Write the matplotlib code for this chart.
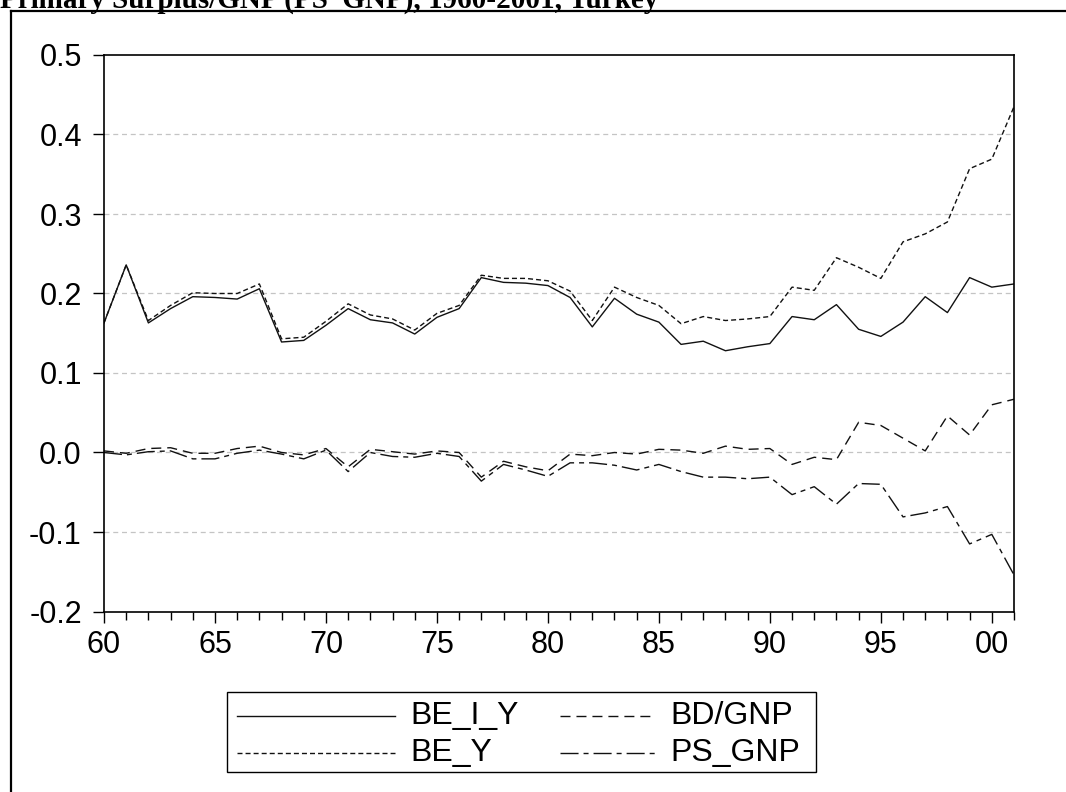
import matplotlib
matplotlib.use("Agg")
import matplotlib.pyplot as plt
from matplotlib.lines import Line2D
from matplotlib.patches import Rectangle
from matplotlib.ticker import MultipleLocator, FixedLocator

years = list(range(1960, 2002))

be_i_y = [0.163, 0.236, 0.163, 0.181, 0.196, 0.195, 0.193, 0.206, 0.139, 0.141,
          0.160, 0.181, 0.167, 0.163, 0.149, 0.170, 0.181, 0.220, 0.214, 0.213,
          0.210, 0.195, 0.158, 0.194, 0.174, 0.164, 0.136, 0.140, 0.128, 0.133,
          0.137, 0.171, 0.167, 0.186, 0.155, 0.146, 0.164, 0.196, 0.176, 0.220,
          0.208, 0.212]

be_y = [0.163, 0.236, 0.166, 0.185, 0.201, 0.200, 0.200, 0.212, 0.143, 0.145,
        0.165, 0.187, 0.173, 0.168, 0.154, 0.175, 0.185, 0.223, 0.219, 0.219,
        0.216, 0.203, 0.166, 0.208, 0.195, 0.185, 0.162, 0.171, 0.166, 0.168,
        0.171, 0.208, 0.204, 0.245, 0.233, 0.219, 0.265, 0.275, 0.290, 0.357,
        0.369, 0.435]

bd_gnp = [0.002, -0.001, 0.005, 0.006, -0.001, -0.001, 0.005, 0.008, 0.000, -0.003,
          0.005, -0.018, 0.004, 0.001, -0.002, 0.002, 0.000, -0.031, -0.011, -0.018,
          -0.023, -0.002, -0.004, 0.000, -0.002, 0.004, 0.003, -0.001, 0.008, 0.004,
          0.005, -0.015, -0.006, -0.009, 0.038, 0.034, 0.018, 0.002, 0.046, 0.022,
          0.060, 0.067]

ps_gnp = [0.000, -0.003, 0.001, 0.002, -0.008, -0.008, -0.001, 0.003, -0.002, -0.008,
          0.003, -0.024, 0.000, -0.005, -0.006, -0.001, -0.005, -0.036, -0.015, -0.022,
          -0.030, -0.013, -0.013, -0.016, -0.022, -0.015, -0.024, -0.031, -0.031, -0.033,
          -0.031, -0.053, -0.043, -0.065, -0.039, -0.040, -0.081, -0.076, -0.068, -0.115,
          -0.103, -0.154]

y_ticks = [-0.2, -0.1, 0.0, 0.1, 0.2, 0.3, 0.4, 0.5]
x_major = [1960, 1965, 1970, 1975, 1980, 1985, 1990, 1995, 2000]
x_labels = ["60", "65", "70", "75", "80", "85", "90", "95", "00"]
title_text = "Primary Surplus/GNP (PS_GNP), 1960-2001, Turkey"

W, H = 1066, 792
fig = plt.figure(figsize=(W / 100, H / 100), dpi=100)
fig.patch.set_facecolor("white")

def fx(x):
    return x / W

def fy(y):
    return 1 - y / H

L, R, T, B = 104, 1014, 55, 611.5
ax = fig.add_axes([fx(L), fy(B), fx(R) - fx(L), fy(T) - fy(B)])

styles = {
    "BE_I_Y": dict(ls="-"),
    "BE_Y": dict(ls=(0, (3.6, 2.2))),
    "BD/GNP": dict(ls=(0, (7.2, 4.3))),
    "PS_GNP": dict(ls=(0, (13, 3.6, 3.6, 3.6))),
}
series = [("BE_I_Y", be_i_y), ("BE_Y", be_y), ("BD/GNP", bd_gnp), ("PS_GNP", ps_gnp)]
for name, vals in series:
    ax.plot(years, vals, color="#111111", lw=1.0, **styles[name])

ax.set_xlim(1960, 2001)
ax.set_ylim(-0.2, 0.5)

for g in [-0.1, 0.0, 0.1, 0.2, 0.3, 0.4]:
    ax.axhline(g, color="#c4c4c4", lw=0.9, ls=(0, (4, 3)), zorder=0)

font = "Liberation Sans"
ax.set_yticks(y_ticks)
ax.set_yticklabels([f"{v:.1f}" for v in y_ticks], fontsize=22, family=font)
ax.xaxis.set_major_locator(FixedLocator(x_major))
ax.set_xticklabels(x_labels, fontsize=22, family=font)
ax.xaxis.set_minor_locator(MultipleLocator(1))
ax.tick_params(axis="y", direction="out", length=8, width=1, pad=8)
ax.tick_params(axis="x", which="major", direction="out", length=8, width=1, pad=5)
ax.tick_params(axis="x", which="minor", direction="out", length=5.5, width=1)
for s in ax.spines.values():
    s.set_linewidth(1.2)
    s.set_color("black")

# outer frame
fig.add_artist(Line2D([fx(11), 1], [fy(11), fy(11)], color="black", lw=1.6))
fig.add_artist(Line2D([fx(11), fx(11)], [fy(11), 0], color="black", lw=1.6))

# title (partly cut off at the top, as in the reference)
fig.text(fx(0), fy(8), title_text, fontsize=21, family="Liberation Serif",
         weight="bold", va="baseline", ha="left")

# legend
fig.add_artist(Rectangle((fx(227), fy(772)), fx(816) - fx(227), fy(692) - fy(772),
                         fill=False, ec="black", lw=1.0))
leg = [
    ("BE_I_Y", 237, 395, 410, 716),
    ("BD/GNP", 560, 655, 670, 716),
    ("BE_Y", 237, 395, 410, 753),
    ("PS_GNP", 560, 655, 670, 753),
]
for name, x0, x1, xt, yy in leg:
    fig.add_artist(Line2D([fx(x0), fx(x1)], [fy(yy), fy(yy)], color="#111111",
                          lw=1.0, **styles[name]))
    fig.text(fx(xt), fy(yy), name, fontsize=23, family=font, va="center", ha="left")

fig.savefig("out.png", dpi=100, facecolor="white")
